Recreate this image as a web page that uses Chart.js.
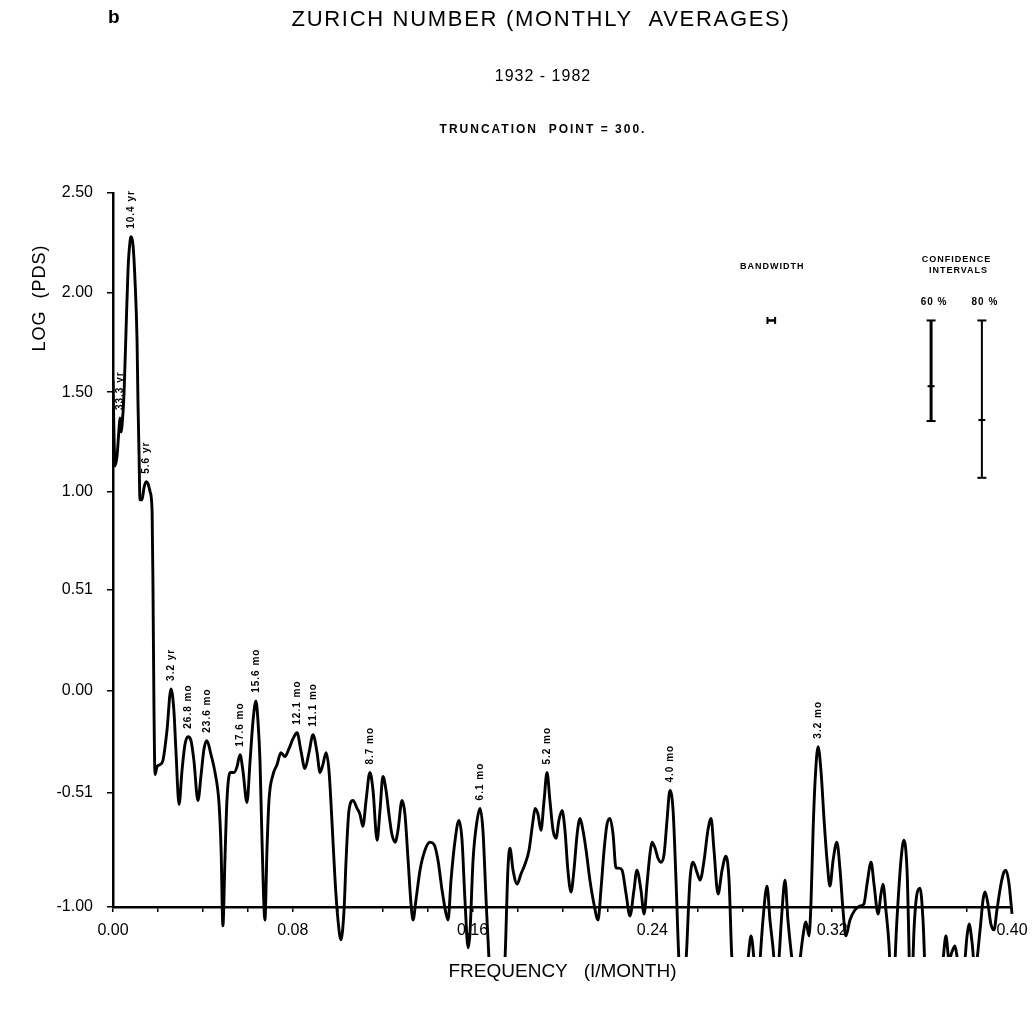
<!DOCTYPE html>
<html><head><meta charset="utf-8">
<script src="https://cdn.jsdelivr.net/npm/chart.js@4.4.1/dist/chart.umd.min.js"></script>
<style>html,body{margin:0;padding:0;background:#fff;}#wrap{width:1032px;height:1010px;}</style>
</head><body><div id="wrap"><canvas id="c" width="1032" height="1010"></canvas></div>
<script>
// ---- DATA ----
const frequency = [
0.0000,0.0004,0.0009,0.0018,0.0027,0.0031,0.0036,0.0040,0.0049,0.0058,0.0067,0.0076,0.0080,0.0089,0.0098,0.0107,0.0111,0.0116,0.0120,0.0129,
0.0138,0.0147,0.0156,0.0165,0.0174,0.0178,0.0182,0.0187,0.0196,0.0209,0.0222,0.0240,0.0258,0.0271,0.0280,0.0294,0.0307,0.0320,0.0334,0.0347,
0.0360,0.0378,0.0392,0.0405,0.0418,0.0436,0.0454,0.0472,0.0481,0.0489,0.0498,0.0507,0.0521,0.0538,0.0552,0.0565,0.0578,0.0596,0.0610,0.0623,
0.0636,0.0645,0.0654,0.0663,0.0676,0.0685,0.0694,0.0712,0.0730,0.0747,0.0765,0.0783,0.0801,0.0819,0.0836,0.0854,0.0872,0.0890,0.0908,0.0921,
0.0934,0.0948,0.0961,0.0974,0.0988,0.1001,0.1014,0.1028,0.1037,0.1050,0.1068,0.1086,0.1099,0.1112,0.1126,0.1143,0.1157,0.1175,0.1188,0.1201,
0.1215,0.1228,0.1241,0.1255,0.1268,0.1286,0.1299,0.1313,0.1326,0.1335,0.1348,0.1366,0.1388,0.1410,0.1428,0.1446,0.1464,0.1482,0.1491,0.1504,
0.1522,0.1539,0.1553,0.1566,0.1580,0.1588,0.1602,0.1620,0.1633,0.1646,0.1660,0.1673,0.1686,0.1722,0.1744,0.1757,0.1766,0.1780,0.1798,0.1815,
0.1833,0.1851,0.1869,0.1878,0.1891,0.1904,0.1918,0.1931,0.1944,0.1958,0.1971,0.1984,0.1998,0.2011,0.2024,0.2038,0.2051,0.2065,0.2078,0.2091,
0.2105,0.2122,0.2140,0.2158,0.2171,0.2185,0.2198,0.2211,0.2225,0.2238,0.2251,0.2265,0.2283,0.2300,0.2318,0.2331,0.2349,0.2363,0.2376,0.2389,
0.2398,0.2412,0.2425,0.2438,0.2452,0.2465,0.2478,0.2492,0.2505,0.2518,0.2535,0.2550,0.2567,0.2581,0.2598,0.2612,0.2630,0.2647,0.2661,0.2674,
0.2692,0.2710,0.2727,0.2741,0.2754,0.2790,0.2825,0.2839,0.2852,0.2865,0.2879,0.2892,0.2910,0.2923,0.2941,0.2950,0.2963,0.2977,0.2990,0.3003,
0.3021,0.3039,0.3057,0.3070,0.3083,0.3097,0.3106,0.3115,0.3124,0.3137,0.3150,0.3164,0.3177,0.3190,0.3204,0.3221,0.3235,0.3248,0.3261,0.3279,
0.3301,0.3324,0.3341,0.3355,0.3373,0.3386,0.3404,0.3417,0.3426,0.3439,0.3453,0.3466,0.3488,0.3506,0.3519,0.3533,0.3551,0.3564,0.3577,0.3591,
0.3604,0.3622,0.3657,0.3693,0.3706,0.3720,0.3733,0.3746,0.3760,0.3786,0.3800,0.3809,0.3822,0.3835,0.3858,0.3871,0.3880,0.3893,0.3906,0.3920,
0.3933,0.3951,0.3964,0.3973,0.3987,0.4000];
const logPds = [
1.56,1.31,1.13,1.18,1.32,1.37,1.30,1.33,1.49,1.81,2.12,2.26,2.28,2.24,2.06,1.76,1.46,1.18,0.96,0.96,
1.02,1.05,1.04,1.00,0.90,0.51,-0.05,-0.42,-0.38,-0.37,-0.35,-0.20,0.01,-0.10,-0.30,-0.57,-0.40,-0.27,-0.23,-0.25,
-0.35,-0.55,-0.42,-0.29,-0.25,-0.32,-0.41,-0.57,-0.80,-1.18,-0.85,-0.55,-0.41,-0.41,-0.38,-0.32,-0.40,-0.56,-0.35,-0.15,
-0.05,-0.15,-0.35,-0.75,-1.15,-0.80,-0.55,-0.42,-0.37,-0.31,-0.33,-0.29,-0.24,-0.21,-0.30,-0.39,-0.31,-0.22,-0.31,-0.41,
-0.37,-0.31,-0.40,-0.65,-0.95,-1.15,-1.25,-1.10,-0.85,-0.60,-0.55,-0.59,-0.62,-0.68,-0.55,-0.41,-0.50,-0.75,-0.60,-0.43,
-0.50,-0.62,-0.72,-0.76,-0.70,-0.55,-0.62,-0.85,-1.07,-1.15,-1.05,-0.90,-0.80,-0.76,-0.77,-0.85,-1.00,-1.12,-1.15,-0.95,
-0.75,-0.65,-0.75,-1.05,-1.29,-1.22,-0.85,-0.65,-0.59,-0.70,-1.05,-1.35,-1.55,-1.55,-1.35,-0.90,-0.79,-0.90,-0.97,-0.92,
-0.87,-0.80,-0.65,-0.59,-0.62,-0.70,-0.55,-0.41,-0.55,-0.70,-0.74,-0.65,-0.60,-0.70,-0.90,-1.01,-0.90,-0.72,-0.64,-0.70,
-0.80,-0.95,-1.07,-1.15,-1.00,-0.80,-0.67,-0.64,-0.72,-0.89,-0.89,-0.90,-1.02,-1.13,-1.00,-0.90,-1.00,-1.12,-0.97,-0.82,
-0.76,-0.79,-0.84,-0.86,-0.82,-0.65,-0.50,-0.60,-0.95,-1.35,-1.55,-1.35,-0.95,-0.86,-0.91,-0.95,-0.85,-0.70,-0.64,-0.80,
-1.02,-0.90,-0.83,-0.95,-1.35,-1.55,-1.35,-1.23,-1.35,-1.55,-1.35,-1.15,-0.98,-1.15,-1.35,-1.55,-1.35,-1.10,-0.95,-1.15,
-1.35,-1.55,-1.35,-1.23,-1.16,-1.23,-1.05,-0.70,-0.45,-0.28,-0.40,-0.65,-0.85,-0.98,-0.85,-0.76,-0.90,-1.10,-1.23,-1.15,
-1.10,-1.08,-1.07,-0.97,-0.86,-0.97,-1.12,-1.02,-0.97,-1.10,-1.28,-1.60,-1.15,-0.85,-0.75,-0.90,-1.60,-1.20,-1.02,-0.99,
-1.15,-1.60,-1.60,-1.35,-1.23,-1.35,-1.31,-1.28,-1.36,-1.38,-1.23,-1.17,-1.26,-1.40,-1.20,-1.05,-1.01,-1.07,-1.17,-1.20,
-1.10,-0.97,-0.91,-0.90,-0.97,-1.12];

const xTickValues = [0.00,0.02,0.04,0.06,0.08,0.10,0.12,0.14,0.16,0.18,0.20,0.22,0.24,0.26,0.28,0.30,0.32,0.34,0.36,0.38,0.40];
const xTickLabels = ["0.00","","","","0.08","","","","0.16","","","","0.24","","","","0.32","","","","0.40"];
const yTickValues = [-1.085,-0.51,0.00,0.51,1.00,1.50,2.00,2.50];
const yTickLabels = ["-1.00","-0.51","0.00","0.51","1.00","1.50","2.00","2.50"];

const peakLabels = ["33.3 yr","10.4 yr","5.6 yr","3.2 yr","26.8 mo","23.6 mo","17.6 mo","15.6 mo","12.1 mo","11.1 mo","8.7 mo","6.1 mo","5.2 mo","4.0 mo","3.2 mo"];
const peakFreq   = [0.0031,0.0080,0.0147,0.0258,0.0334,0.0418,0.0565,0.0636,0.0819,0.0890,0.1143,0.1633,0.1931,0.2478,0.3137];
const peakValue  = [1.37,2.28,1.05,0.01,-0.23,-0.25,-0.32,-0.05,-0.21,-0.22,-0.41,-0.59,-0.41,-0.50,-0.28];

const bandwidthFreq = [0.2912,0.2946];
const bandwidthLevel = 1.86;
const ciNames = ["60 %","80 %"];
const ciFreq  = [0.3640,0.3866];
const ciUpper = [1.86,1.86];
const ciLower = [1.355,1.07];
const ciMid   = [1.53,1.36];

const titleText = "ZURICH NUMBER (MONTHLY  AVERAGES)";
const subtitleText = "1932 - 1982";
const truncText = "TRUNCATION  POINT = 300.";
const panelLetter = "b";
const xTitle = "FREQUENCY   (I/MONTH)";
const yTitle = "LOG  (PDS)";

// ---- CHART ----
const FAM = "'Liberation Sans', Arial, Helvetica, sans-serif";
const spectrum = frequency.map((f,i)=>({x:f,y:logPds[i]}));

const textPlugin = {
  id:'textPlugin',
  afterDraw(chart){
    const ctx = chart.ctx, xs = chart.scales.x, ys = chart.scales.y;
    ctx.save();
    ctx.fillStyle = '#000';
    ctx.textBaseline = 'middle';
    // header
    ctx.textAlign = 'left';
    ctx.letterSpacing = '0px';
    ctx.font = `bold 19px ${FAM}`;
    ctx.fillText(panelLetter, 108, 18);
    ctx.textAlign = 'center';
    ctx.letterSpacing = '1.7px';
    ctx.font = `22px ${FAM}`;
    ctx.fillText(titleText, 541, 20);
    ctx.letterSpacing = '1px';
    ctx.font = `16px ${FAM}`;
    ctx.fillText(subtitleText, 543, 77);
    ctx.letterSpacing = '2px';
    ctx.font = `bold 12px ${FAM}`;
    ctx.fillText(truncText, 543, 130);
    // y title
    ctx.save();
    ctx.letterSpacing = '1px';
    ctx.translate(40, 298);
    ctx.rotate(-Math.PI/2);
    ctx.font = `18px ${FAM}`;
    ctx.fillText(yTitle, 0, 0);
    ctx.restore();
    // peak labels
    ctx.letterSpacing = '1px';
    ctx.font = `bold 10px ${FAM}`;
    peakLabels.forEach((t,i)=>{
      const px = xs.getPixelForValue(peakFreq[i]);
      const py = ys.getPixelForValue(peakValue[i]);
      ctx.save();
      ctx.translate(px, py - 8);
      ctx.rotate(-Math.PI/2);
      ctx.textAlign = 'left';
      ctx.fillText(t, 0, 0);
      ctx.restore();
    });
    // bandwidth & confidence texts
    ctx.font = `bold 9px ${FAM}`;
    ctx.textAlign = 'center';
    const bwx = xs.getPixelForValue((bandwidthFreq[0]+bandwidthFreq[1])/2);
    ctx.fillText("BANDWIDTH", bwx + 1, 267);
    const cix = (xs.getPixelForValue(ciFreq[0]) + xs.getPixelForValue(ciFreq[1]))/2;
    ctx.fillText("CONFIDENCE", cix, 260);
    ctx.fillText("INTERVALS", cix + 2, 271);
    ctx.font = `bold 10px ${FAM}`;
    ciNames.forEach((n,i)=>{
      ctx.fillText(n, xs.getPixelForValue(ciFreq[i]) + 3, 302);
    });
    ctx.restore();
  }
};

const datasets = [
  {data:spectrum, showLine:true, borderColor:'#000', borderWidth:2.9, pointRadius:0,
   cubicInterpolationMode:'monotone', clip:{left:0,top:5,right:3,bottom:50}},
  {data:[{x:bandwidthFreq[0],y:bandwidthLevel},{x:bandwidthFreq[1],y:bandwidthLevel}], showLine:true,
   borderColor:'#000', borderWidth:2.5, pointStyle:'line', rotation:90, pointRadius:3.5, pointBorderWidth:2, pointBorderColor:'#000'},
];
ciFreq.forEach((f,i)=>{
  datasets.push({data:[{x:f,y:ciUpper[i]},{x:f,y:ciLower[i]}], showLine:true, borderColor:'#000',
    borderWidth: i===0 ? 3 : 2, pointStyle:'line', pointRadius:4.5, pointBorderWidth:2, pointBorderColor:'#000'});
  datasets.push({data:[{x:f,y:ciMid[i]}], showLine:false, pointStyle:'line', pointRadius:3.5, pointBorderWidth:2, pointBorderColor:'#000'});
});

new Chart(document.getElementById('c'), {
  type:'scatter',
  data:{datasets},
  plugins:[textPlugin],
  options:{
    responsive:false, animation:false, devicePixelRatio:1,
    layout:{padding:{top:193,right:20,bottom:0,left:0}},
    plugins:{legend:{display:false}, tooltip:{enabled:false}},
    scales:{
      x:{type:'linear', min:0, max:0.4,
        afterBuildTicks:s=>{ s.ticks = xTickValues.map(v=>({value:v})); },
        afterFit:s=>{ s.height = 103; s.paddingRight = 0; s.paddingLeft = 0; },
        ticks:{autoSkip:false, maxRotation:0, minRotation:0, padding:9, color:'#000',
          font:{size:16, family:FAM}, callback:(v,i)=>xTickLabels[i]},
        grid:{drawOnChartArea:false, tickLength:5, color:'#000', lineWidth:1.5},
        border:{color:'#000', width:2.5},
        title:{display:true, text:xTitle, color:'#000', font:{size:19, family:FAM}, padding:{top:0,bottom:27}}
      },
      y:{type:'linear', min:-1.085, max:2.5,
        afterBuildTicks:s=>{ s.ticks = yTickValues.map(v=>({value:v})); },
        afterFit:s=>{ s.width = 113; s.paddingTop = 0; s.paddingBottom = 0; },
        ticks:{autoSkip:false, padding:14, color:'#000', font:{size:16, family:FAM},
          callback:(v,i)=>yTickLabels[i]},
        grid:{drawOnChartArea:false, tickLength:6, color:'#000', lineWidth:1.5},
        border:{color:'#000', width:2.5}
      }
    }
  }
});
</script>
</body></html>
